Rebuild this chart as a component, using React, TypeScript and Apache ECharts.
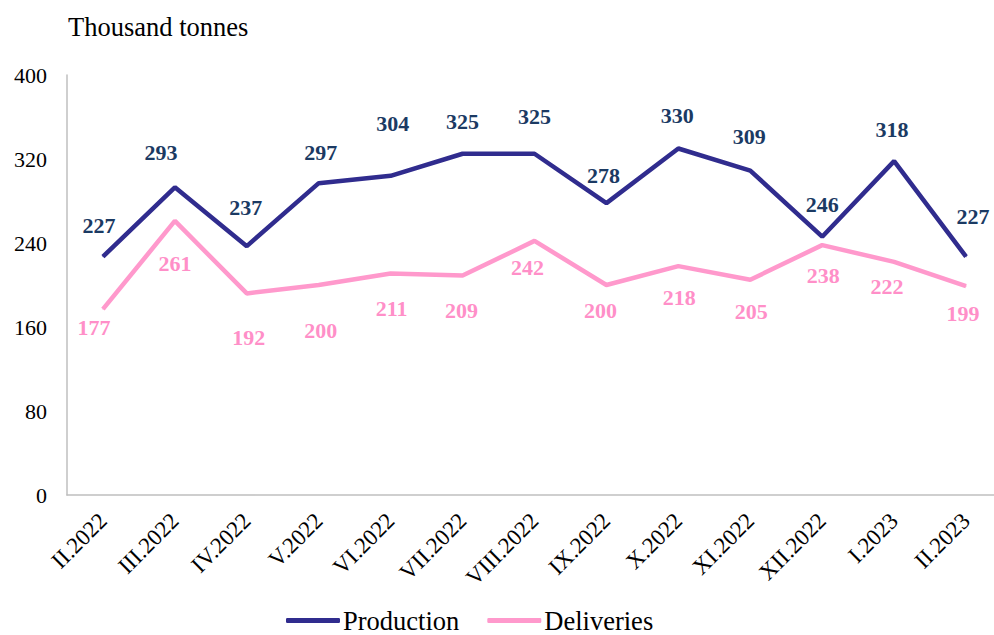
import React, { useEffect, useRef } from "react";
import * as echarts from "echarts";

const categories = [
  "II.2022", "III.2022", "IV.2022", "V.2022", "VI.2022", "VII.2022", "VIII.2022",
  "IX.2022", "X.2022", "XI.2022", "XII.2022", "I.2023", "II.2023",
];
const production = [227, 293, 237, 297, 304, 325, 325, 278, 330, 309, 246, 318, 227];
const deliveries = [177, 261, 192, 200, 211, 209, 242, 200, 218, 205, 238, 222, 199];
const yTicks = [0, 80, 160, 240, 320, 400];

// label placement (pixel offsets from each point)
const prodLabelOffsets: [number, number][] = [
  [-4, -31], [-14, -35], [-1, -39], [2, -31], [2, -52], [0, -32], [0, -37],
  [-3, -28], [-1, -33], [-1, -34], [0, -32], [-2, -32], [7, -40],
];
const delLabelOffsets: [number, number][] = [
  [-9, 18], [0, 43], [2, 44], [2, 45], [1, 35], [-1, 35], [-7, 27],
  [-6, 25], [1, 31], [1, 32], [1, 30], [-7, 25], [-3, 27],
];

const FONT = "'Liberation Serif', 'Times New Roman', serif";

export default function App() {
  const ref = useRef<HTMLDivElement>(null);
  useEffect(() => {
    if (!ref.current) return;
    const chart = echarts.init(ref.current, null, { renderer: "svg" });
    chart.setOption({
      animation: false,
      backgroundColor: "#ffffff",
      title: {
        text: "Thousand tonnes",
        left: 68,
        top: 13,
        padding: 0,
        textStyle: { fontFamily: FONT, fontSize: 26.5, fontWeight: "normal", color: "#000" },
      },
      legend: {
        left: 286,
        top: 607,
        padding: 0,
        itemWidth: 54,
        itemHeight: 5,
        itemGap: 28,
        icon: "roundRect",
        textStyle: { fontFamily: FONT, fontSize: 26.5, color: "#000", padding: [0, 0, 0, -2] },
        data: ["Production", "Deliveries"],
      },
      grid: { left: 67, right: 0, top: 75, bottom: 140, containLabel: false },
      xAxis: {
        type: "category",
        data: categories,
        boundaryGap: true,
        axisLine: { lineStyle: { color: "#bfbfbf", width: 1.5 } },
        axisTick: { show: false },
        axisLabel: {
          rotate: 45,
          interval: 0,
          margin: 22,
          fontFamily: FONT,
          fontSize: 23,
          color: "#000",
        },
      },
      yAxis: {
        type: "value",
        min: yTicks[0],
        max: yTicks[yTicks.length - 1],
        interval: yTicks[1] - yTicks[0],
        axisLine: { show: true, lineStyle: { color: "#bfbfbf", width: 1.5 } },
        axisTick: { show: false },
        splitLine: { show: false },
        axisLabel: { margin: 20, fontFamily: FONT, fontSize: 22, color: "#000" },
      },
      series: [
        {
          name: "Production",
          type: "line",
          data: production.map((v, i) => ({ value: v, label: { offset: prodLabelOffsets[i] } })),
          symbol: "circle",
          symbolSize: 1,
          itemStyle: { color: "#302c8e" },
          lineStyle: { color: "#302c8e", width: 4.5 },
          label: {
            show: true,
            position: "inside",
            fontFamily: FONT,
            fontSize: 22,
            fontWeight: "bold",
            color: "#1b3a63",
          },
        },
        {
          name: "Deliveries",
          type: "line",
          data: deliveries.map((v, i) => ({ value: v, label: { offset: delLabelOffsets[i] } })),
          symbol: "circle",
          symbolSize: 1,
          itemStyle: { color: "#ff99cc" },
          lineStyle: { color: "#ff99cc", width: 4.5 },
          label: {
            show: true,
            position: "inside",
            fontFamily: FONT,
            fontSize: 22,
            fontWeight: "bold",
            color: "#ff8fc8",
          },
        },
      ],
    });
    return () => chart.dispose();
  }, []);
  return (
    <div
      style={{
        position: "absolute",
        left: 0,
        top: 0,
        width: 994,
        height: 635,
        overflow: "hidden",
      }}
    >
      <div ref={ref} style={{ width: 1002, height: 635 }} />
    </div>
  );
}
